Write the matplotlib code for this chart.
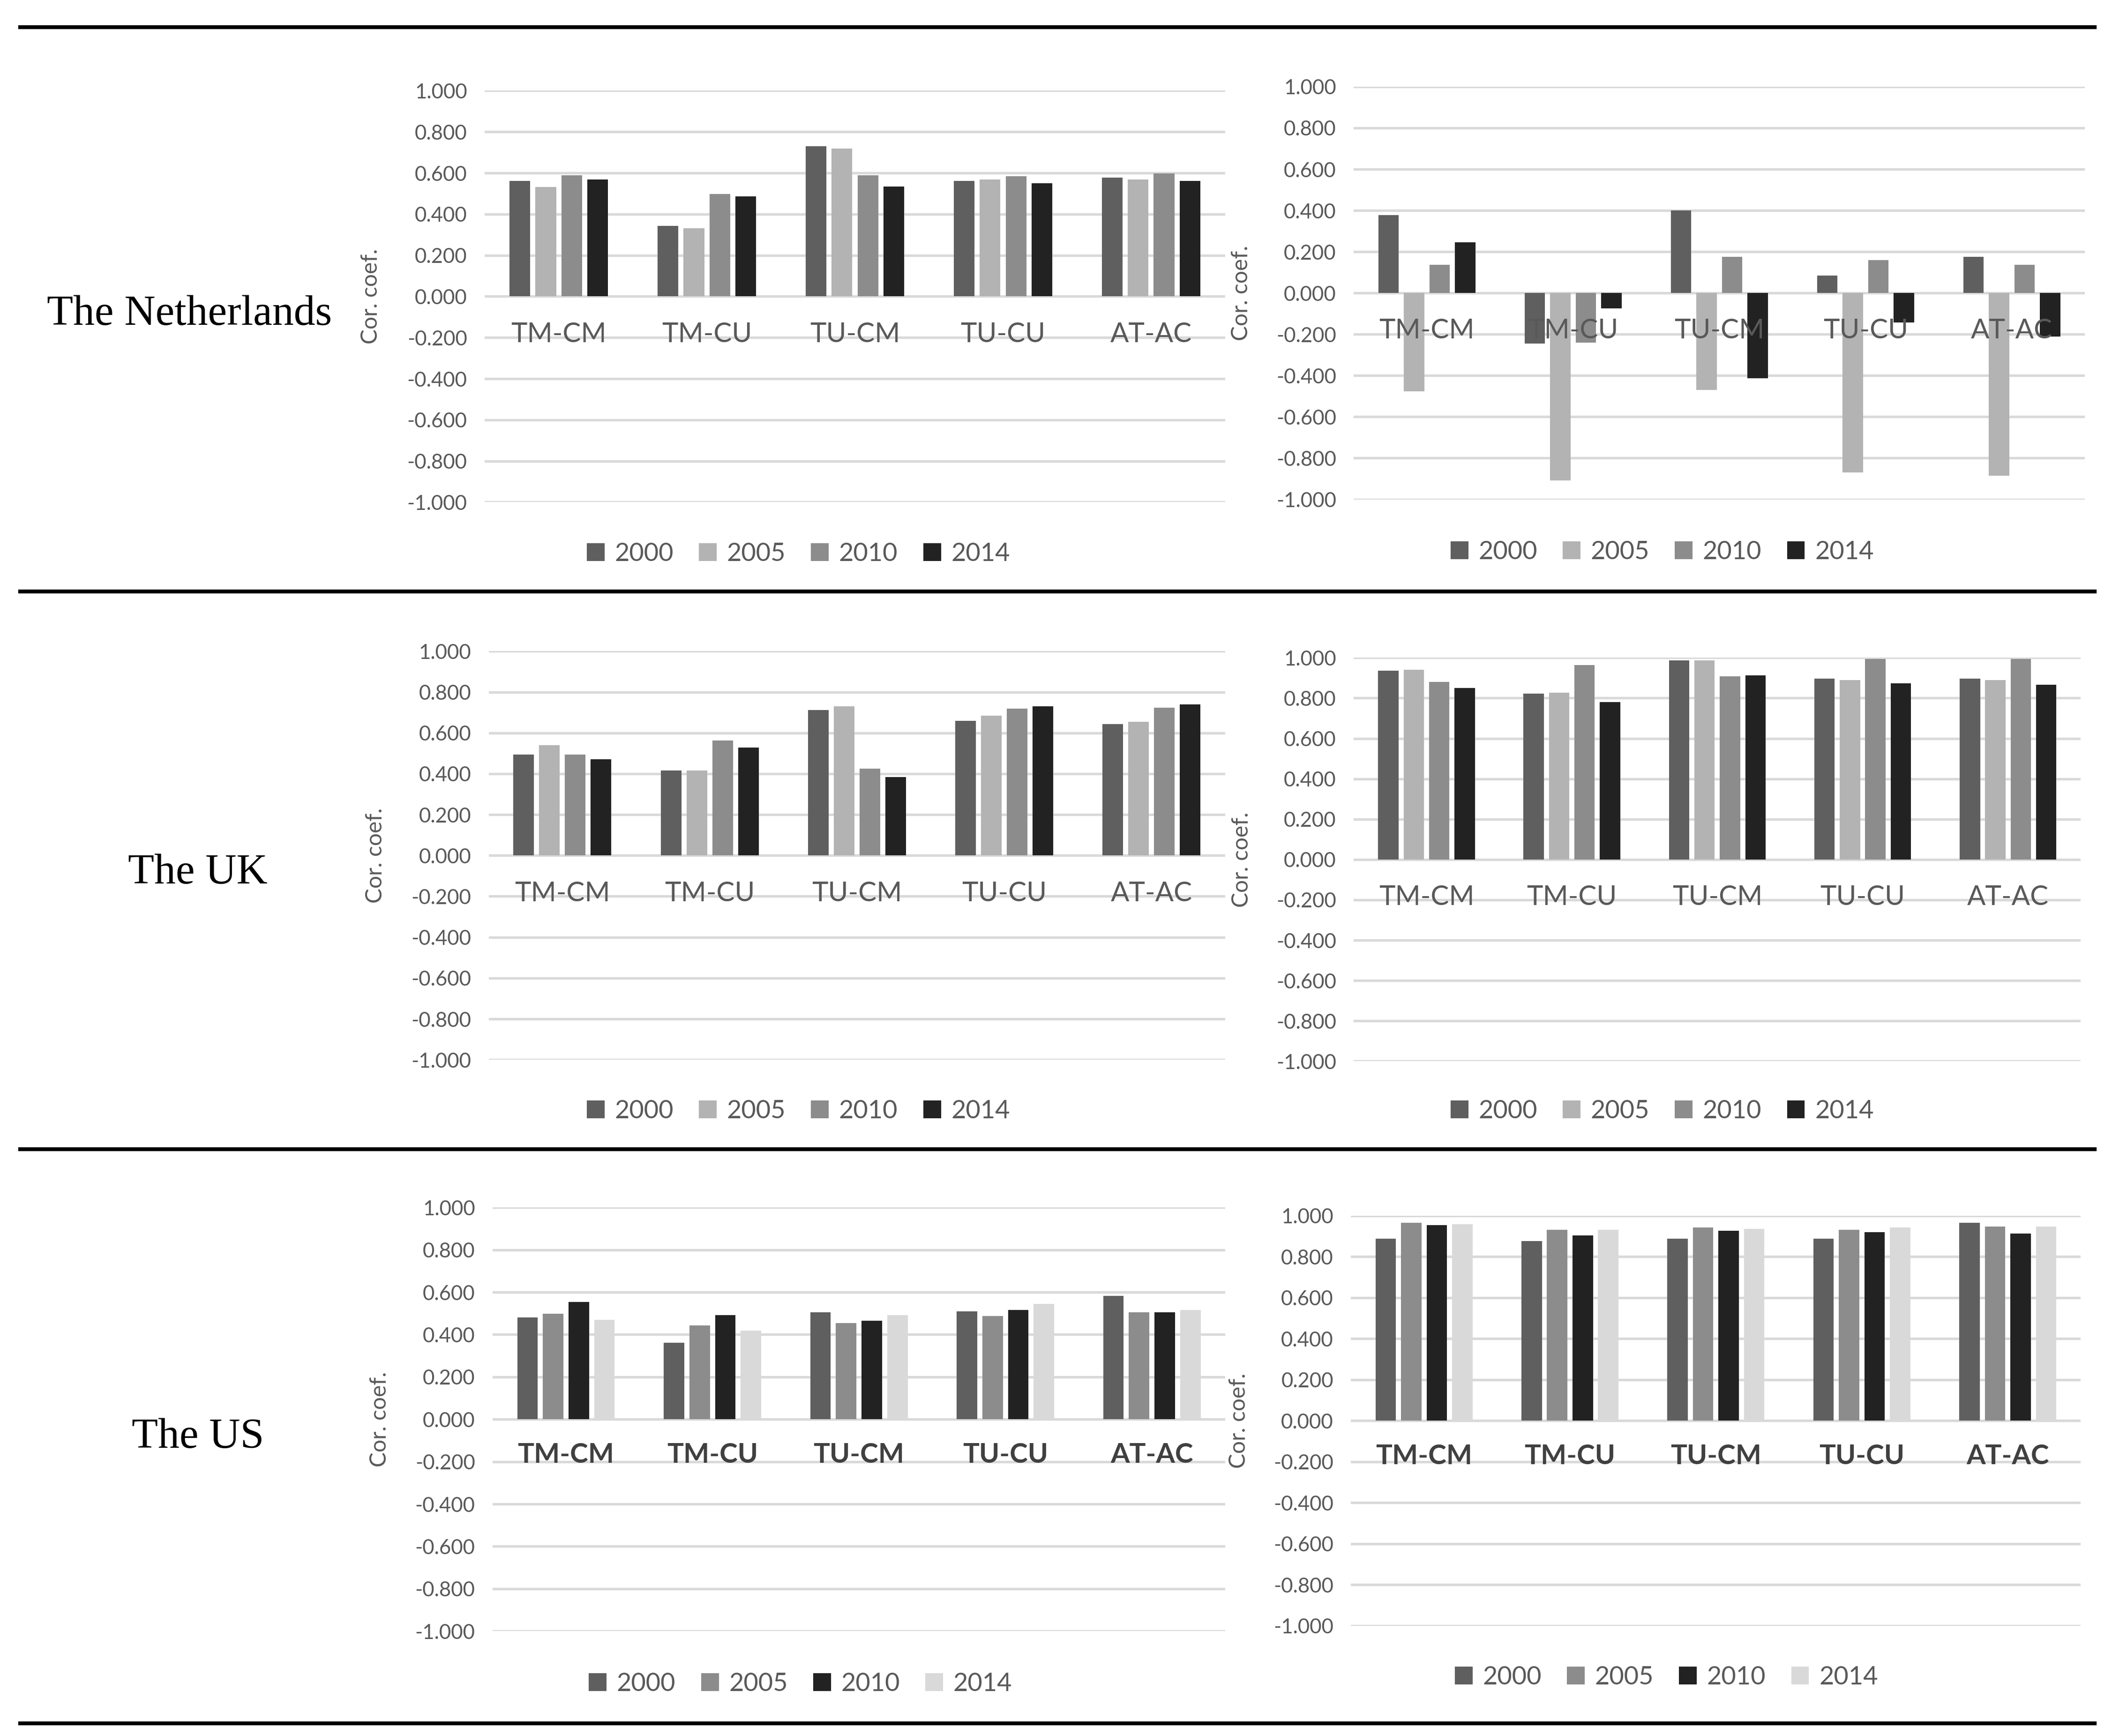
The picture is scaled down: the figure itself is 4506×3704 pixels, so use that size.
import matplotlib.pyplot as plt
import numpy as np
from matplotlib.lines import Line2D

plt.rcParams['font.family'] = ['Lato', 'DejaVu Sans']

categories = ['TM-CM', 'TM-CU', 'TU-CM', 'TU-CU', 'AT-AC']
years = ['2000', '2005', '2010', '2014']

# values per year (rows) for the five pairs (columns)
nl_left = [[0.561, 0.343, 0.729, 0.561, 0.577],
           [0.532, 0.331, 0.718, 0.568, 0.568],
           [0.589, 0.498, 0.589, 0.584, 0.597],
           [0.568, 0.487, 0.534, 0.550, 0.560]]
nl_right = [[0.378, -0.245, 0.400, 0.085, 0.176],
            [-0.477, -0.909, -0.469, -0.870, -0.886],
            [0.136, -0.240, 0.176, 0.160, 0.136],
            [0.246, -0.074, -0.413, -0.142, -0.210]]
uk_left = [[0.494, 0.415, 0.712, 0.660, 0.642],
           [0.540, 0.415, 0.730, 0.685, 0.655],
           [0.494, 0.563, 0.424, 0.719, 0.724],
           [0.470, 0.528, 0.384, 0.730, 0.740]]
uk_right = [[0.936, 0.822, 0.987, 0.897, 0.897],
            [0.941, 0.827, 0.987, 0.890, 0.890],
            [0.879, 0.964, 0.908, 0.993, 0.993],
            [0.851, 0.781, 0.913, 0.874, 0.867]]
us_left = [[0.481, 0.362, 0.504, 0.510, 0.582],
           [0.498, 0.442, 0.454, 0.487, 0.504],
           [0.554, 0.491, 0.465, 0.515, 0.504],
           [0.470, 0.418, 0.491, 0.544, 0.515]]
us_right = [[0.886, 0.875, 0.886, 0.886, 0.965],
            [0.965, 0.931, 0.942, 0.931, 0.947],
            [0.953, 0.902, 0.925, 0.920, 0.913],
            [0.958, 0.931, 0.936, 0.942, 0.947]]

colors_eu = ['#5f5f5f', '#b3b3b3', '#8c8c8c', '#222222']
colors_us = ['#5f5f5f', '#8c8c8c', '#222222', '#d9d9d9']

fig = plt.figure(figsize=(15.02, 12.347), dpi=300)

txt = '#595959'


def draw(rect, values, colors, legend_xy, bold=False):
    ax = fig.add_axes(rect)
    x = np.arange(len(categories))
    offsets = (np.arange(4) - 1.5) * 0.175
    for i in range(4):
        ax.bar(x + offsets[i], values[i], width=0.14, color=colors[i],
               label=years[i], zorder=3)
    ax.set_xlim(-0.5, 4.5)
    ax.set_ylim(-1, 1)
    ticks = np.round(np.linspace(-1, 1, 11), 1)
    ax.set_yticks(ticks)
    ax.set_yticklabels(['{:.3f}'.format(t) for t in ticks])
    ax.yaxis.grid(True, color='#d9d9d9', lw=1.3)
    ax.set_axisbelow(True)
    # category labels sit on top of the bars, like in Excel
    ax.xaxis.set_zorder(4)
    for s in ['top', 'right', 'left']:
        ax.spines[s].set_visible(False)
    ax.spines['bottom'].set_position(('data', 0))
    ax.spines['bottom'].set_color('none')
    ax.set_xticks(x)
    ax.set_xticklabels(categories)
    ax.tick_params(axis='y', length=0, pad=9, labelsize=10.5, labelcolor=txt)
    ax.tick_params(axis='x', length=0, pad=13 if not bold else 12, labelsize=14,
                   labelcolor='#404040' if bold else txt)
    if bold:
        for lab in ax.get_xticklabels():
            lab.set_fontweight('bold')
    ax.set_ylabel('Cor. coef.', fontsize=11.5, color=txt)
    ax.yaxis.set_label_coords(-0.14, 0.5)
    ax.legend(loc='center', bbox_to_anchor=legend_xy, bbox_transform=fig.transFigure,
              ncol=4, frameon=False, fontsize=13, labelcolor=txt,
              handlelength=0.7, handleheight=0.7, handletextpad=0.4,
              columnspacing=1.0)
    return ax


draw([0.2295, 0.7107, 0.3506, 0.2371], nl_left, colors_eu, (0.378, 0.681))
draw([0.6410, 0.7123, 0.3462, 0.2378], nl_right, colors_eu, (0.787, 0.682))
draw([0.2314, 0.3895, 0.3487, 0.2354], uk_left, colors_eu, (0.378, 0.360))
draw([0.6410, 0.3887, 0.3442, 0.2324], uk_right, colors_eu, (0.787, 0.360))
draw([0.2333, 0.0604, 0.3468, 0.2441], us_left, colors_us, (0.379, 0.030), bold=True)
draw([0.6397, 0.0635, 0.3455, 0.2363], us_right, colors_us, (0.789, 0.034), bold=True)

# row labels
fig.text(0.0897, 0.819, 'The Netherlands', fontsize=22, family='Liberation Serif',
         ha='center', va='center')
fig.text(0.0936, 0.497, 'The UK', fontsize=22, family='Liberation Serif',
         ha='center', va='center')
fig.text(0.0936, 0.172, 'The US', fontsize=22, family='Liberation Serif',
         ha='center', va='center')

# table rules
for yy in [0.9844, 0.6593, 0.338, 0.0074]:
    fig.add_artist(Line2D([0.0096, 0.9917], [yy, yy], color='black', lw=2.0))

fig.savefig('out.png', dpi=300)
